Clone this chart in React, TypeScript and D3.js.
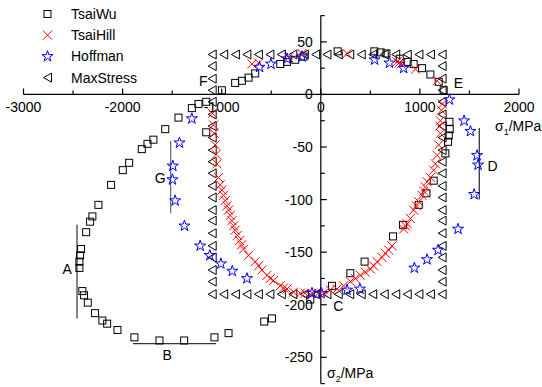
import React, { useRef, useEffect } from "react";
import * as d3 from "d3";

// failure envelopes in the sigma1 / sigma2 plane (MPa)
const tsaiWu: [number, number][] = [
  [-2419, -147], [-2429, -153], [-2436, -159], [-2436, -165], [-2406, -187], [-2389, -191],
  [-2351, -198], [-2278, -208], [-2204, -215], [-2156, -218], [-2052, -224], [-1881, -231],
  [-1628, -234], [-1379, -234], [-1073, -231], [-931, -227], [-571, -216], [-493, -213],
  [-2368, -131], [-2328, -121], [-2305, -116], [-2244, -105], [-2116, -86], [-1998, -72],
  [-1934, -65], [-1806, -52], [-1749, -47], [-1689, -43], [-1570, -33], [-1436, -22],
  [-1301, -13], [-1234, -9], [-1156, -7], [-998, 4], [-1156, -36],
  [-864, 11], [-796, 13], [-729, 16], [-662, 20], [-409, 29], [-341, 31], [-258, 33], [-174, 36],
  [170, 41], [540, 41], [604, 40], [662, 39], [796, 34], [877, 31], [937, 29], [1022, 25],
  [1106, 19], [1190, 12], [1240, 4],
  [1298, -26], [1301, -33], [1291, -39], [1284, -45], [1257, -56], [1139, -82], [1066, -94],
  [988, -105], [830, -124], [729, -135], [442, -159], [298, -170], [113, -182], [-106, -195],
];

const tsaiHill: [number, number][] = [
  [-695, 29], [-628, 30], [-325, 35], [-190, 39], [265, 39], [770, 31], [790, 30], [810, 29],
  [955, 24], [1174, 13],
  [-1093, -18], [-1083, -29], [-1076, -37], [-1066, -48], [-1056, -57], [-1048, -66], [-1032, -79],
  [-1015, -86], [-998, -91], [-982, -96], [-965, -101], [-948, -106], [-931, -110], [-914, -115],
  [-897, -120], [-880, -125], [-864, -129], [-842, -134], [-820, -139], [-800, -143], [-780, -147],
  [-729, -153], [-662, -159], [-628, -163], [-594, -167], [-543, -172], [-510, -175], [-477, -177],
  [-409, -182], [-375, -184], [-341, -185], [-275, -188], [-207, -189], [-157, -189], [-89, -189],
  [-25, -189],
  [28, -189], [96, -186], [164, -185], [230, -182], [298, -178], [348, -175], [399, -172],
  [449, -169], [500, -166], [533, -163], [568, -159], [618, -155], [651, -151], [685, -148],
  [719, -144], [836, -128], [855, -125], [871, -123], [904, -118], [937, -110], [965, -106],
  [988, -102], [1022, -96], [1040, -92], [1055, -88], [1073, -83], [1106, -79], [1139, -72],
  [1156, -66], [1174, -58], [1190, -48], [1207, -37], [1200, -30], [1207, -25], [1217, -15],
  [1227, -9],
];

const hoffman: [number, number][] = [
  [-1301, -23], [-1426, -46], [-1493, -68], [-1497, -81], [-1470, -101], [-1376, -125],
  [-1217, -144], [-1120, -153], [-1008, -161], [-893, -168], [-745, -175], [-89, -189],
  [5, -189], [265, -186], [395, -185], [944, -165], [1072, -157], [1183, -148], [1385, -128],
  [1547, -95], [1587, -67], [1577, -58], [1510, -35], [1446, -25], [1298, -5], [836, 25],
  [693, 30], [543, 33], [-190, 36], [-341, 34], [-503, 29], [-618, 26],
];

// max stress criterion: a rectangle of markers
const maxStressRowX = [
  -1096, -980, -862, -746, -630, -514, -398, -282, -166, -52, 62, 176, 292, 408, 524, 640,
  756, 872, 990, 1106, 1224,
];
const maxStressColY = [
  38, 27, 15, 4, -7, -19, -30, -41, -53, -64, -75, -87, -98, -110, -120, -132, -144, -155,
  -167, -178, -190,
];

const xMajor = [-3000, -2000, -1000, 0, 1000, 2000];
const xMinor = [-2500, -1500, -500, 500, 1500];
const yMajor = [50, 0, -50, -100, -150, -200, -250];
const yMinor = [75, 25, -25, -75, -125, -175, -225, -275];

const letters: { t: string; x: number; y: number }[] = [
  { t: "F", x: -1187, y: 13 },
  { t: "E", x: 1389, y: 11 },
  { t: "D", x: 1732, y: -68 },
  { t: "C", x: 177, y: -201 },
  { t: "G", x: -1621, y: -79 },
  { t: "A", x: -2560, y: -166 },
  { t: "B", x: -1550, y: -248 },
];

const guideLines: { x1: number; y1: number; x2: number; y2: number; c: string }[] = [
  { x1: -2460, y1: -124, x2: -2460, y2: -213, c: "#333" },
  { x1: -1895, y1: -237, x2: -1057, y2: -237, c: "#333" },
  { x1: -1515, y1: -44, x2: -1515, y2: -113, c: "#666" },
  { x1: 1599, y1: -32, x2: 1599, y2: -100, c: "#222" },
];

const legendItems = ["TsaiWu", "TsaiHill", "Hoffman", "MaxStress"];

const W = 542;
const H = 387;
const FONT = "Arial, 'Liberation Sans', sans-serif";

export default function App() {
  const svgRef = useRef<SVGSVGElement>(null);

  useEffect(() => {
    if (!svgRef.current) return;
    const svg = d3.select(svgRef.current);
    svg.selectAll("*").remove();

    const x = d3.scaleLinear().domain([-3000, 2000]).range([23.5, 519]);
    const y = d3.scaleLinear().domain([-275, 75]).range([383.6, 15.6]);
    const x0 = x(0);
    const y0 = y(0);

    const maxStress: [number, number][] = [];
    maxStressRowX.forEach((v) => {
      maxStress.push([v, maxStressColY[0]]);
      maxStress.push([v, maxStressColY[maxStressColY.length - 1]]);
    });
    maxStressColY.slice(1, -1).forEach((v) => {
      maxStress.push([maxStressRowX[0], v]);
      maxStress.push([maxStressRowX[maxStressRowX.length - 1], v]);
    });

    // axes
    const ax = svg.append("g").attr("stroke", "#000").attr("stroke-width", 1.2);
    ax.append("line").attr("x1", x(-3000)).attr("x2", x(2000)).attr("y1", y0).attr("y2", y0);
    ax.append("line").attr("x1", x0).attr("x2", x0).attr("y1", y(75)).attr("y2", y(-275));
    xMajor.forEach((v) => ax.append("line").attr("x1", x(v)).attr("x2", x(v)).attr("y1", y0).attr("y2", y0 - 6));
    xMinor.forEach((v) => ax.append("line").attr("x1", x(v)).attr("x2", x(v)).attr("y1", y0).attr("y2", y0 - 4));
    yMajor.forEach((v) => ax.append("line").attr("x1", x0).attr("x2", x0 + 6).attr("y1", y(v)).attr("y2", y(v)));
    yMinor.forEach((v) => ax.append("line").attr("x1", x0).attr("x2", x0 + 4).attr("y1", y(v)).attr("y2", y(v)));

    const lab = svg.append("g").style("font-family", FONT).style("font-size", "14px").attr("fill", "#000");
    xMajor.forEach((v) =>
      lab.append("text").attr("x", x(v)).attr("y", y0 + 18).attr("text-anchor", "middle").text(`${v}`)
    );
    yMajor.forEach((v) =>
      lab.append("text").attr("x", x0 - 8).attr("y", y(v) + 5).attr("text-anchor", "end").text(`${v}`)
    );

    // axis titles
    const t1 = lab.append("text").attr("x", 495).attr("y", 131);
    t1.append("tspan").text("σ");
    t1.append("tspan").attr("dy", 4).style("font-size", "9px").text("1");
    t1.append("tspan").attr("dy", -4).text("/MPa");
    const t2 = lab.append("text").attr("x", 327).attr("y", 378);
    t2.append("tspan").text("σ");
    t2.append("tspan").attr("dy", 4).style("font-size", "9px").text("2");
    t2.append("tspan").attr("dy", -4).text("/MPa");

    // guide lines and letters
    guideLines.forEach((l) =>
      svg.append("line")
        .attr("x1", x(l.x1)).attr("y1", y(l.y1)).attr("x2", x(l.x2)).attr("y2", y(l.y2))
        .attr("stroke", l.c).attr("stroke-width", 1.2)
    );
    letters.forEach((l) =>
      lab.append("text").attr("x", x(l.x)).attr("y", y(l.y) + 5).attr("text-anchor", "middle").text(l.t)
    );

    // marker drawers
    const square = (g: any, px: number, py: number) =>
      g.append("rect").attr("x", px - 3.5).attr("y", py - 3.5).attr("width", 7).attr("height", 7)
        .attr("fill", "none").attr("stroke", "#000").attr("stroke-width", 1);
    const cross = (g: any, px: number, py: number) =>
      g.append("path").attr("transform", `translate(${px},${py})`)
        .attr("d", "M-4.5,-4.5L4.5,4.5M-4.5,4.5L4.5,-4.5").attr("stroke", "#ff0000").attr("stroke-width", 1).attr("fill", "none");
    const starPath = d3.symbol().type(d3.symbolStar).size(38)();
    const star = (g: any, px: number, py: number) =>
      g.append("path").attr("transform", `translate(${px},${py})`)
        .attr("d", starPath).attr("stroke", "#0000ff").attr("stroke-width", 1).attr("fill", "none");
    const tri = (g: any, px: number, py: number) =>
      g.append("path").attr("transform", `translate(${px},${py})`)
        .attr("d", "M-4,0L4,-4.5L4,4.5Z").attr("stroke", "#000").attr("stroke-width", 1).attr("fill", "none");

    const marks = svg.append("g");
    maxStress.forEach((d) => tri(marks, x(d[0]), y(d[1])));
    tsaiWu.forEach((d) => square(marks, x(d[0]), y(d[1])));
    tsaiHill.forEach((d) => cross(marks, x(d[0]), y(d[1])));
    hoffman.forEach((d) => star(marks, x(d[0]), y(d[1])));

    // legend
    const drawers = [square, cross, star, tri];
    const lg = svg.append("g");
    legendItems.forEach((name, i) => {
      const ly = 14 + i * 21.2;
      drawers[i](lg, 47.5, ly);
      lg.append("text").attr("x", 71).attr("y", ly + 5)
        .style("font-family", FONT).style("font-size", "14px").text(name);
    });
  }, []);

  return (
    <svg
      ref={svgRef}
      width={W}
      height={H}
      style={{ position: "absolute", left: 0, top: 0, background: "#fff" }}
    />
  );
}
